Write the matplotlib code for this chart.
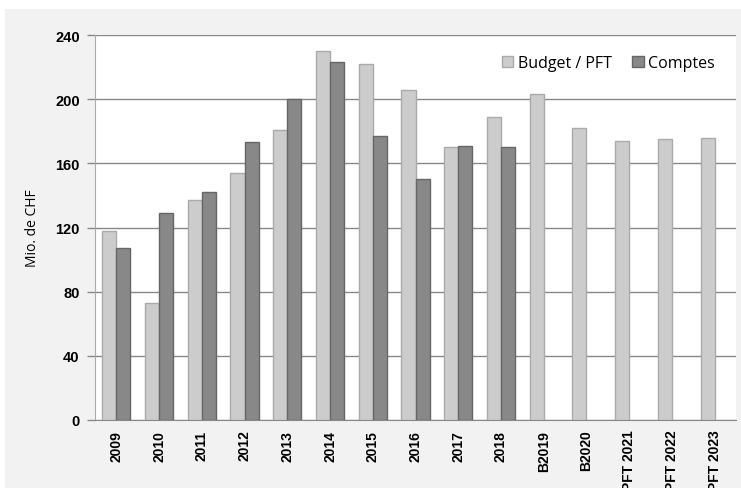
import matplotlib
matplotlib.use("Agg")
import matplotlib.pyplot as plt
import numpy as np
from matplotlib.patches import Rectangle

categories = ["2009", "2010", "2011", "2012", "2013", "2014", "2015", "2016", "2017", "2018",
              "B2019", "B2020", "PFT 2021", "PFT 2022", "PFT 2023"]
budget = [118, 73, 137, 154, 181, 230, 222, 206, 170, 189, 203, 182, 174, 175, 176]
comptes = [107, 129, 142, 173, 200, 223, 177, 150, 171, 170]
yticks = [0, 40, 80, 120, 160, 200, 240]

W, H = 741, 489
fig = plt.figure(figsize=(W / 100, H / 100), dpi=100)
fig.patch.set_facecolor("white")
fig.patches.append(Rectangle((5 / W, 0), 1, (H - 10) / H, transform=fig.transFigure,
                             facecolor="#f2f2f2", edgecolor="none", zorder=-10))

ax = fig.add_axes([95 / W, (H - 421) / H, (736 - 95) / W, (421 - 36) / H])
ax.set_facecolor("white")

x = np.arange(len(categories))
bw = 0.33
ax.bar(x[:len(budget)] - bw / 2, budget, width=bw, color="#cccccc", edgecolor="#aaaaaa",
       linewidth=1, label="Budget / PFT", zorder=3)
ax.bar(x[:len(comptes)] + bw / 2, comptes, width=bw, color="#888888", edgecolor="#666666",
       linewidth=1, label="Comptes", zorder=3)

ax.set_xlim(-0.5, len(categories) - 0.5)
ax.set_ylim(0, 240)
ax.set_yticks(yticks)
ax.set_yticklabels([str(v) for v in yticks], fontsize=10.5, fontweight="bold",
                   family=["Liberation Sans", "DejaVu Sans"])
ax.set_xticks(x)
ax.set_xticklabels(categories, rotation=90, fontsize=10, fontweight="bold",
                   family=["Liberation Sans", "DejaVu Sans"])
ax.tick_params(axis="x", length=0, pad=7)
ax.tick_params(axis="y", length=6, width=1, color="#888888", pad=5)
ax.yaxis.grid(True, color="#888888", linewidth=1, zorder=0)
ax.set_axisbelow(True)
for s in ["top", "right"]:
    ax.spines[s].set_visible(False)
ax.spines["left"].set_color("#aaaaaa")
ax.spines["bottom"].set_color("#888888")

fig.text(32 / W, 1 - 228 / H, "Mio. de CHF", rotation=90, ha="center", va="center",
         fontsize=10, family=["Open Sans", "DejaVu Sans"])

leg = ax.legend(loc="upper right", bbox_to_anchor=(0.99, 0.985), ncol=2, frameon=False,
                prop={"family": ["Open Sans", "DejaVu Sans"], "size": 11.5},
                handlelength=0.7, handleheight=0.7, handletextpad=0.3, columnspacing=1.3)

fig.savefig("out.png", dpi=100, facecolor=fig.get_facecolor())
